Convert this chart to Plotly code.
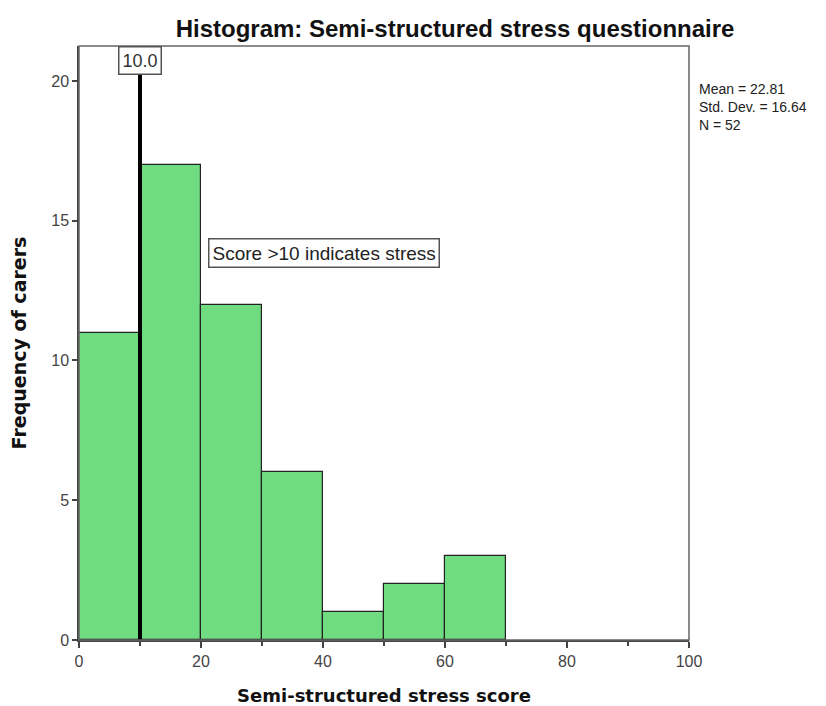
import plotly.graph_objects as go

bin_edges = [0, 10, 20, 30, 40, 50, 60, 70]
counts = [11, 17, 12, 6, 1, 2, 3]
cutoff = 10.0
stats_lines = ["Mean = 22.81", "Std. Dev. = 16.64", "N = 52"]

centers = [(bin_edges[i] + bin_edges[i + 1]) / 2 for i in range(len(counts))]
widths = [bin_edges[i + 1] - bin_edges[i] for i in range(len(counts))]

FONT = "Liberation Sans, Arial, sans-serif"
FONT_WIDE = "DejaVu Sans, Verdana, sans-serif"

fig = go.Figure()
fig.add_trace(go.Bar(
    x=centers, y=counts, width=widths,
    marker=dict(color="rgb(112,220,130)", line=dict(color="#222222", width=1.2)),
    hoverinfo="x+y", showlegend=False,
))

fig.add_shape(type="line", x0=cutoff, x1=cutoff, y0=0, y1=1, xref="x", yref="paper",
              line=dict(color="black", width=4))
fig.add_shape(type="rect", x0=0, x1=1, y0=0, y1=1, xref="paper", yref="paper",
              line=dict(color="#666666", width=1.5), layer="above")

fig.add_annotation(x=cutoff, y=1, xref="x", yref="paper", text=f"{cutoff:.1f}",
                   showarrow=False, yanchor="top", xanchor="center",
                   font=dict(family=FONT, size=18, color="#333333"),
                   bgcolor="white", bordercolor="#555555", borderwidth=1.5, borderpad=3)
fig.add_annotation(x=21.15, y=13.86, xref="x", yref="y", text="Score >10 indicates stress",
                   showarrow=False, xanchor="left", yanchor="middle",
                   font=dict(family=FONT, size=19, color="#222222"),
                   bgcolor="white", bordercolor="#555555", borderwidth=1.5, borderpad=3)
fig.add_annotation(x=1.013, y=1 - 33 / 594, xref="paper", yref="paper",
                   text="<br>".join(stats_lines), showarrow=False, xanchor="left", yanchor="top",
                   align="left", font=dict(family=FONT, size=14, color="#222222"))

fig.update_layout(
    width=818, height=698,
    margin=dict(l=71, r=137, t=38, b=66),
    plot_bgcolor="white", paper_bgcolor="white",
    bargap=0,
    title=dict(text="<b>Histogram: Semi-structured stress questionnaire</b>",
               x=0.5465, xanchor="center", y=0.971, yanchor="middle",
               font=dict(family=FONT, size=24, color="#111111")),
    font=dict(family=FONT),
)
fig.update_xaxes(
    range=[0, 100], tickvals=[0, 20, 40, 60, 80, 100], ticks="outside", ticklen=6,
    tickwidth=1.5, tickcolor="#444444", showgrid=False, zeroline=False,
    showline=True, linecolor="#444444", linewidth=1.5, automargin=False,
    tickfont=dict(family=FONT, size=16, color="#444444"),
    minor=dict(tickvals=[10, 30, 50, 70, 90], ticks="outside", ticklen=4, tickcolor="#444444", tickwidth=1.5),
    title=dict(text="<b>Semi-structured stress score</b>", standoff=24,
               font=dict(family=FONT_WIDE, size=18, color="#111111")),
)
fig.update_yaxes(
    range=[0, 21.25], tickvals=[0, 5, 10, 15, 20], ticks="outside", ticklen=5,
    tickwidth=1.5, tickcolor="#444444", showgrid=False, zeroline=False,
    showline=True, linecolor="#444444", linewidth=1.5, automargin=False,
    tickfont=dict(family=FONT, size=16, color="#444444"),
    title=dict(text="<b>Frequency of carers</b>", standoff=22,
               font=dict(family=FONT_WIDE, size=19, color="#111111")),
)

fig.write_html("out.html")
